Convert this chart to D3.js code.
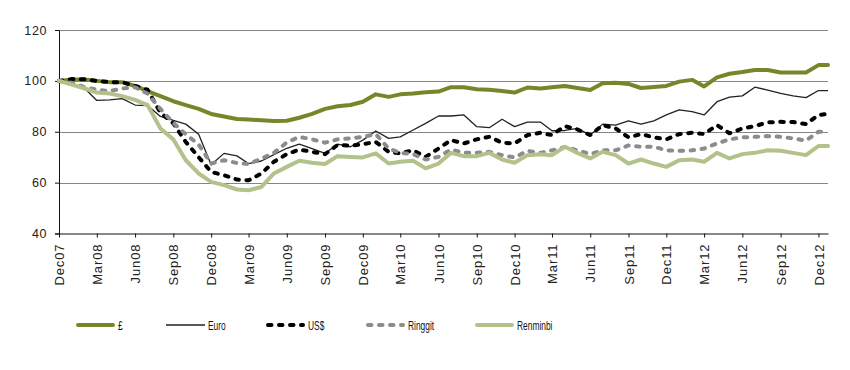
<!DOCTYPE html>
<html lang="en">
<head>
  <meta charset="UTF-8">
  <title>Currency index Dec07-Dec12</title>
  <style>
    body {
      margin: 0;
      background: #fff;
    }
    svg {
      display: block;
    }
    text {
      font-family: "Liberation Sans", Arial, sans-serif;
    }
  </style>
</head>
<body>
  <script src="https://d3js.org/d3.v7.min.js"></script>
  <script>
    'use strict';

    const width = 850;
    const height = 370;

    // plot box
    const plotLeft = 59;
    const plotRight = 828;
    const plotTop = 30;
    const plotBottom = 233.5;

    // monthly samples Dec07..Dec12, plus the last reading in late Dec12
    const dates = d3.timeMonth.range(new Date(2007, 11, 1), new Date(2013, 0, 1))
      .concat([new Date(2012, 11, 24)]);

    const yTicks = [40, 60, 80, 100, 120];

    const gbp = [100, 100.5, 100.5, 100, 99.5, 99.5, 98, 96, 94, 92, 90.5, 89, 87,
      86, 85, 84.8, 84.5, 84.2, 84.3, 85.5, 87, 89, 90, 90.5, 91.8,
      94.7, 93.7, 94.7, 95, 95.5, 95.8, 97.5, 97.5, 96.7, 96.5, 96, 95.4,
      97.4, 97, 97.5, 98, 97.2, 96.4, 99.1, 99.3, 98.8, 97.2, 97.6, 98,
      99.7, 100.4, 97.8, 101.4, 102.8, 103.5, 104.3, 104.3, 103.3, 103.3, 103.3, 106.2,
      106.2];

    const euro = [100, 98.5, 97, 92.3, 92.5, 93, 90.5, 90.3, 86, 84.5, 83, 79, 67,
      71.5, 70.5, 67.5, 68.5, 71, 73.5, 75.1, 73.4, 71.5, 75.1, 74.1, 76.7,
      80.3, 77.4, 78, 80.7, 83.3, 86.2, 86.2, 86.6, 82, 81.6, 84.9, 82,
      83.8, 83.8, 80.4, 80.5, 81.3, 78.7, 83, 82.6, 84.3, 83, 84.3, 86.6,
      88.6, 87.9, 86.6, 91.8, 93.6, 94.1, 97.5, 96.4, 95.1, 94.1, 93.4, 96.2,
      96.2];

    const usd = [100, 100.7, 100.6, 100, 99.5, 99.5, 98, 96.5, 87.5, 83.3, 76, 70, 64.2,
      62.9, 61.2, 60.9, 63.6, 68.2, 71.2, 73, 72.1, 71.2, 74.8, 74.5, 75.1,
      76, 72.1, 71.5, 72.7, 70.1, 73.4, 76.7, 75.4, 77, 78, 75.7, 75.4,
      78.7, 79.6, 78.7, 82.2, 80.9, 78.7, 82.6, 81.3, 77.8, 79.1, 77.8, 77,
      79.1, 79.6, 79.1, 82.6, 79.4, 81.3, 82.2, 83.7, 83.9, 83.8, 83, 86.6,
      87];

    const ringgit = [100, 99.2, 97.5, 96.5, 96, 97, 97.5, 95, 89, 83.5, 79, 75, 67.5,
      68.8, 67.7, 67.3, 69.5, 71.7, 75.8, 78, 77, 75.7, 77, 77.4, 78,
      79.1, 73.4, 71.7, 71.2, 69.1, 70.1, 73, 71.7, 71.7, 72.1, 70.8, 69.9,
      72.5, 71.7, 72.7, 74, 72.7, 71.2, 72.7, 72.7, 74.6, 74.1, 74.1, 72.7,
      72.5, 72.7, 73.4, 75.4, 77, 77.8, 78, 78.3, 78, 77.4, 76.5, 80,
      80];

    const renminbi = [100, 98.5, 97, 95.4, 95, 94, 92.5, 90.5, 81.3, 77, 68.8, 63.6, 60.3,
      59, 57.3, 57, 58.3, 63.6, 66.2, 68.6, 67.8, 67.3, 70.4, 70.1, 69.9,
      71.5, 67.5, 68.2, 68.6, 65.6, 67.5, 71.7, 70.4, 70.4, 71.7, 69.1, 67.8,
      70.8, 71.2, 70.8, 74.1, 71.7, 69.5, 72.1, 70.8, 67.5, 69.1, 67.5, 66.2,
      68.8, 69.1, 68.2, 71.7, 69.5, 71.2, 71.7, 72.7, 72.5, 71.7, 70.8, 74.4,
      74.4];

    const seriesNames = ['£', 'Euro', 'US$', 'Ringgit', 'Renminbi'];
    const seriesValues = [gbp, euro, usd, ringgit, renminbi];

    const styles = [
      { color: '#76872a', width: 4, dash: null, cap: 'round' },
      { color: '#222222', width: 1.3, dash: null, cap: 'butt' },
      { color: '#000000', width: 4, dash: '3.5,7.5', cap: 'round' },
      { color: '#8c8c8c', width: 4, dash: '3.5,7.5', cap: 'round' },
      { color: '#b3c28a', width: 4, dash: null, cap: 'round' }
    ];

    // legend swatch start x of each item
    const legendX = [76, 166, 266, 366, 475];
    const legendY = 325;
    const swatchLen = 39;

    const x = d3.scaleTime()
      .domain([dates[0], dates[dates.length - 1]])
      .range([plotLeft, plotRight]);

    const y = d3.scaleLinear()
      .domain([40, 120])
      .range([plotBottom, plotTop]);

    const svg = d3.select('body')
      .append('svg')
      .attr('width', width)
      .attr('height', height);

    // horizontal gridlines
    svg.append('g')
      .selectAll('line')
      .data(yTicks.filter(t => t > 40))
      .enter()
      .append('line')
      .attr('x1', plotLeft)
      .attr('x2', plotRight)
      .attr('y1', d => Math.round(y(d)) + 0.5)
      .attr('y2', d => Math.round(y(d)) + 0.5)
      .attr('stroke', '#868686')
      .attr('stroke-width', 1);

    // y axis
    const yAxis = d3.axisLeft(y)
      .tickValues(yTicks)
      .tickSize(4)
      .tickPadding(8);

    const yG = svg.append('g')
      .attr('transform', 'translate(' + plotLeft + ',0)')
      .call(yAxis);
    yG.selectAll('text')
      .attr('font-size', '12.5px')
      .attr('letter-spacing', '0.6px')
      .attr('fill', '#222');
    yG.selectAll('path, line').attr('stroke', '#111');

    // x axis, quarterly ticks
    const xTicks = dates.slice(0, 61).filter((d, i) => i % 3 === 0);
    const xAxis = d3.axisBottom(x)
      .tickValues(xTicks)
      .tickFormat(d3.timeFormat('%b%y'))
      .tickSize(4)
      .tickSizeOuter(0);

    const xG = svg.append('g')
      .attr('transform', 'translate(0,' + plotBottom + ')')
      .call(xAxis);
    xG.selectAll('path, line').attr('stroke', '#111');
    xG.selectAll('text')
      .attr('font-size', '13px')
      .attr('letter-spacing', '0.9px')
      .attr('fill', '#222')
      .attr('text-anchor', 'end')
      .attr('dy', '0.35em')
      .attr('transform', 'translate(0,1) rotate(-90)')
      .attr('x', -9)
      .attr('y', 0);

    // series lines
    const line = d3.line()
      .x((d, i) => x(dates[i]))
      .y(d => y(d));

    seriesValues.forEach((vals, k) => {
      const s = styles[k];
      svg.append('path')
        .datum(vals)
        .attr('fill', 'none')
        .attr('stroke', s.color)
        .attr('stroke-width', s.width)
        .attr('stroke-linejoin', 'round')
        .attr('stroke-linecap', s.cap)
        .attr('stroke-dasharray', s.dash)
        .attr('d', line);
    });

    // legend
    const legend = svg.append('g');
    seriesNames.forEach((name, k) => {
      const s = styles[k];
      legend.append('line')
        .attr('x1', legendX[k] + (s.cap === 'round' ? 2 : 0))
        .attr('x2', legendX[k] + swatchLen - (s.cap === 'round' ? 2 : 0))
        .attr('y1', legendY)
        .attr('y2', legendY)
        .attr('stroke', s.color)
        .attr('stroke-width', s.width)
        .attr('stroke-linecap', s.cap)
        .attr('stroke-dasharray', s.dash);
      legend.append('text')
        .attr('transform', 'translate(' + (legendX[k] + swatchLen + 3) + ',' + (legendY + 4.5) + ') scale(0.7,1)')
        .attr('font-size', '12px')
        .attr('fill', '#111')
        .text(name);
    });
  </script>
</body>
</html>
